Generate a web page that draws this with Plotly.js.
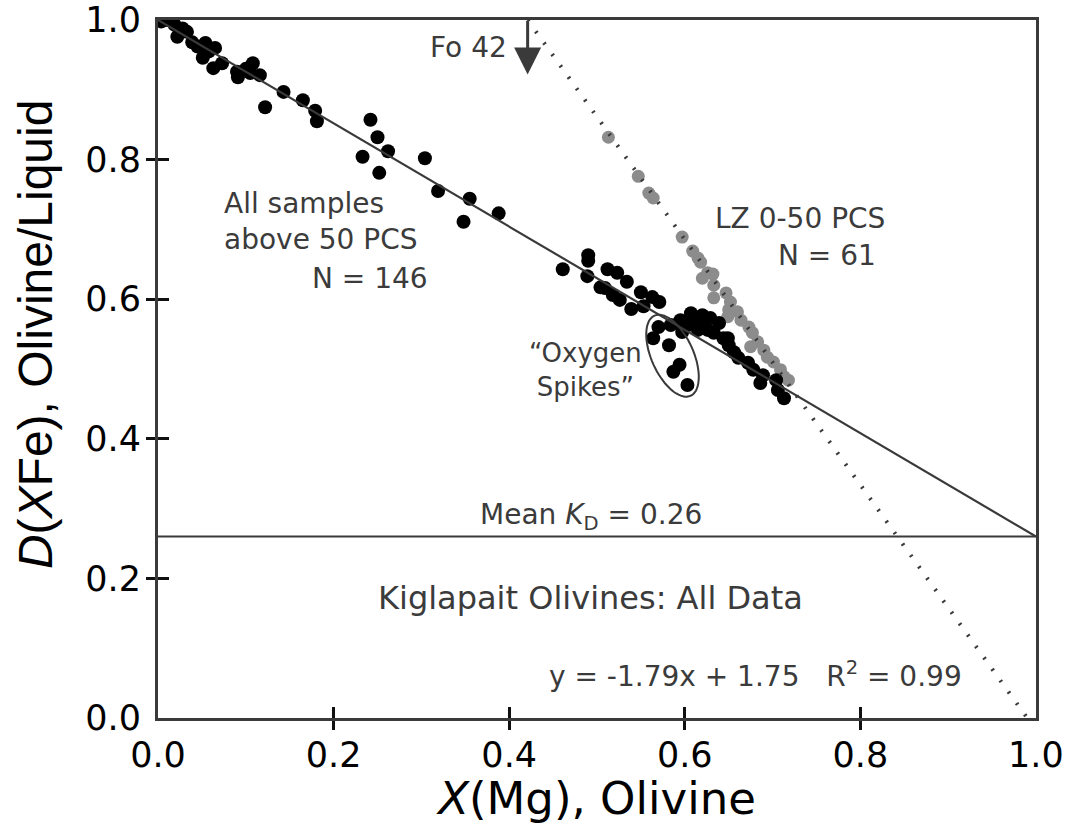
<!DOCTYPE html>
<html>
<head>
<meta charset="utf-8">
<script src="https://cdn.plot.ly/plotly-3.0.1.min.js"></script>
<style>html,body{margin:0;padding:0;background:#fff;}#chart{width:1066px;height:835px;}</style>
</head>
<body>
<div id="chart"></div>
<script>
// ---------- Data ----------
const upperX = [0.004,0.011,0.019,0.022,0.028,0.033,0.039,0.045,0.054,0.051,0.058,0.065,0.063,0.073,0.090,0.091,0.100,0.108,0.116,0.105,0.143,0.165,0.122,0.179,0.181,0.242,0.250,0.262,0.233,0.252,0.304,0.319,0.355,0.388,0.348,
  0.461,0.490,0.490,0.489,0.512,0.523,0.534,0.509,0.504,0.518,0.526,0.539,0.550,0.563,0.571,0.553,
  0.595,0.610,0.620,0.629,0.639,0.607,0.618,0.597,0.615,0.626,0.633,0.649,0.644,0.650,0.656,0.661,0.672,0.678,0.689,0.686,0.704,0.706,0.713,0.584,0.604];
const upperY = [0.998,1.000,0.993,0.976,0.988,0.983,0.968,0.962,0.967,0.946,0.955,0.960,0.931,0.938,0.926,0.918,0.930,0.938,0.921,0.924,0.897,0.885,0.875,0.870,0.855,0.857,0.832,0.812,0.804,0.781,0.802,0.755,0.744,0.723,0.711,
  0.643,0.663,0.655,0.633,0.643,0.638,0.625,0.616,0.617,0.606,0.599,0.586,0.610,0.603,0.596,0.590,
  0.570,0.574,0.577,0.573,0.566,0.580,0.567,0.553,0.556,0.556,0.552,0.544,0.544,0.534,0.524,0.516,0.509,0.499,0.491,0.480,0.484,0.470,0.458,0.563,0.563];
const spikeX = [0.570,0.564,0.582,0.594,0.587,0.603];
const spikeY = [0.560,0.544,0.534,0.506,0.496,0.477];
const lzX = [0.513,0.547,0.559,0.564,0.597,0.609,0.615,0.618,0.626,0.620,0.632,0.633,0.647,0.633,0.652,0.650,0.660,0.664,0.649,0.673,0.677,0.683,0.675,0.690,0.694,0.701,0.709,0.713,0.718];
const lzY = [0.832,0.776,0.752,0.745,0.689,0.669,0.659,0.653,0.638,0.630,0.636,0.620,0.609,0.602,0.596,0.585,0.582,0.570,0.575,0.560,0.552,0.539,0.532,0.527,0.517,0.510,0.499,0.489,0.484];
const fitX = [0.0, 1.0];
const fitY = [1.0, 0.26];
const trendX = [0.421, 0.990];
const trendY = [1.0, 0.0];
const kdX = [0.0, 1.0];
const kdY = [0.26, 0.26];
const tickVals = [0, 0.2, 0.4, 0.6, 0.8, 0.9999];
const tickText = ['0.0', '0.2', '0.4', '0.6', '0.8', '1.0'];
const innerTicks = [0.2, 0.4, 0.6, 0.8];

// ---------- Styles ----------
const INK = '#3a3a3a';
const TXT = '#3b3b3b';
const F = 'DejaVu Sans, sans-serif';

// plot-area scale (for the hand-drawn ellipse outline)
const PW = 878, PH = 698;
function ellipsePath(cx, cy, a, b, ux, uy) {
  const vx = -uy, vy = ux;
  let d = '';
  for (let i = 0; i <= 72; i++) {
    const t = i / 72 * 2 * Math.PI;
    const ox = a * Math.cos(t) * ux + b * Math.sin(t) * vx;
    const oy = a * Math.cos(t) * uy + b * Math.sin(t) * vy;
    const x = cx + ox / PW, y = cy - oy / PH;
    d += (i === 0 ? 'M' : 'L') + x.toFixed(4) + ',' + y.toFixed(4) + ' ';
  }
  return d + 'Z';
}

const traces = [
  {x: lzX, y: lzY, type: 'scatter', mode: 'markers', name: 'LZ 0-50 PCS',
   marker: {color: '#8c8c8c', size: 13}, hoverinfo: 'x+y'},
  {x: upperX, y: upperY, type: 'scatter', mode: 'markers', name: 'Above 50 PCS',
   marker: {color: '#000', size: 14}, hoverinfo: 'x+y'},
  {x: spikeX, y: spikeY, type: 'scatter', mode: 'markers', name: 'Oxygen spikes',
   marker: {color: '#000', size: 14}, hoverinfo: 'x+y'},
  {x: fitX, y: fitY, type: 'scatter', mode: 'lines', name: 'fit',
   line: {color: INK, width: 2.2}, hoverinfo: 'skip'},
  {x: trendX, y: trendY, type: 'scatter', mode: 'lines', name: 'LZ trend',
   line: {color: INK, width: 4, dash: '2px,12px'}, hoverinfo: 'skip'},
  {x: kdX, y: kdY, type: 'scatter', mode: 'lines', name: 'Mean KD', xaxis: 'x2', yaxis: 'y2',
   line: {color: INK, width: 2.2}, hoverinfo: 'skip'}
];

const axBase = {range: [0, 1], showgrid: false, zeroline: false, fixedrange: true};

const layout = {
  width: 1066, height: 835,
  margin: {l: 158, r: 30, t: 20, b: 117},
  paper_bgcolor: '#fff', plot_bgcolor: '#fff',
  showlegend: false,
  xaxis: Object.assign({}, axBase, {
    showline: true, mirror: true, linecolor: INK, linewidth: 3,
    ticks: 'outside', ticklen: 9, tickwidth: 3, tickcolor: '#111',
    tickmode: 'array', tickvals: innerTicks, showticklabels: false,
    title: {text: '<i>X</i>(Mg), Olivine', font: {family: F, size: 45, color: '#000'}, standoff: 54}
  }),
  yaxis: Object.assign({}, axBase, {
    showline: true, mirror: true, linecolor: INK, linewidth: 3,
    ticks: 'outside', ticklen: 9, tickwidth: 3, tickcolor: '#111',
    tickmode: 'array', tickvals: innerTicks, showticklabels: false
  }),
  xaxis2: Object.assign({}, axBase, {
    overlaying: 'x', anchor: 'y2', side: 'bottom', showline: false,
    ticks: 'inside', ticklen: 11, tickwidth: 3, tickcolor: '#111',
    tickmode: 'array', tickvals: tickVals, ticktext: tickText,
    ticklabelstandoff: 13,
    tickfont: {family: F, size: 35, color: '#000'}
  }),
  yaxis2: Object.assign({}, axBase, {
    overlaying: 'y', anchor: 'x2', side: 'left', showline: false,
    ticks: 'inside', ticklen: 11, tickwidth: 3, tickcolor: '#111',
    tickmode: 'array', tickvals: tickVals, ticktext: tickText,
    ticklabelstandoff: 16,
    tickfont: {family: F, size: 35, color: '#000'}
  }),
  shapes: [
    {type: 'path', xref: 'x', yref: 'y', path: ellipsePath(0.586, 0.519, 44, 21, 0.41, 0.91),
     line: {color: INK, width: 2}, fillcolor: 'rgba(0,0,0,0)'}
  ],
  annotations: [
    {xref: 'paper', yref: 'y', x: 0, y: 0.55, xanchor: 'center', yanchor: 'middle', xshift: -123,
     textangle: -90, showarrow: false,
     text: '<i>D</i>(<i>X</i>Fe), Olivine/Liquid',
     font: {family: 'Liberation Sans, Arial, sans-serif', size: 48, color: '#000'}},
    {x: 0.421, y: 0.922, ax: 0.421, ay: 1.0, axref: 'x', ayref: 'y', xref: 'x', yref: 'y',
     showarrow: true, arrowhead: 2, arrowsize: 1.8, arrowwidth: 3, arrowcolor: INK, text: ''},
    {x: 0.354, y: 0.961, xanchor: 'center', yanchor: 'middle', showarrow: false, text: 'Fo 42',
     font: {family: F, size: 28, color: TXT}},
    {x: 0.073, y: 0.711, xanchor: 'left', yanchor: 'middle', align: 'left', showarrow: false,
     text: 'All samples<br>above 50 PCS', font: {family: F, size: 28, color: TXT}},
    {x: 0.310, y: 0.629, xanchor: 'right', yanchor: 'middle', showarrow: false,
     text: 'N = 146', font: {family: F, size: 28, color: TXT}},
    {x: 0.632, y: 0.715, xanchor: 'left', yanchor: 'middle', showarrow: false,
     text: 'LZ 0-50 PCS', font: {family: F, size: 28, color: TXT}},
    {x: 0.820, y: 0.663, xanchor: 'right', yanchor: 'middle', showarrow: false,
     text: 'N = 61', font: {family: F, size: 28, color: TXT}},
    {x: 0.487, y: 0.499, xanchor: 'center', yanchor: 'middle', align: 'center', showarrow: false,
     text: '\u201COxygen<br>Spikes\u201D', font: {family: F, size: 26, color: TXT}},
    {x: 0.493, y: 0.289, xanchor: 'center', yanchor: 'middle', showarrow: false,
     text: 'Mean <i>K</i><sub>D</sub> = 0.26', font: {family: F, size: 28, color: TXT}},
    {x: 0.493, y: 0.172, xanchor: 'center', yanchor: 'middle', showarrow: false,
     text: 'Kiglapait Olivines: All Data', font: {family: F, size: 32, color: TXT}},
    {x: 0.681, y: 0.063, xanchor: 'center', yanchor: 'middle', showarrow: false,
     text: 'y = -1.79x + 1.75\u00A0\u00A0\u00A0R<sup>2</sup> = 0.99', font: {family: F, size: 28, color: TXT}}
  ]
};

Plotly.newPlot('chart', traces, layout, {displayModeBar: false, staticPlot: true});
</script>
</body>
</html>
